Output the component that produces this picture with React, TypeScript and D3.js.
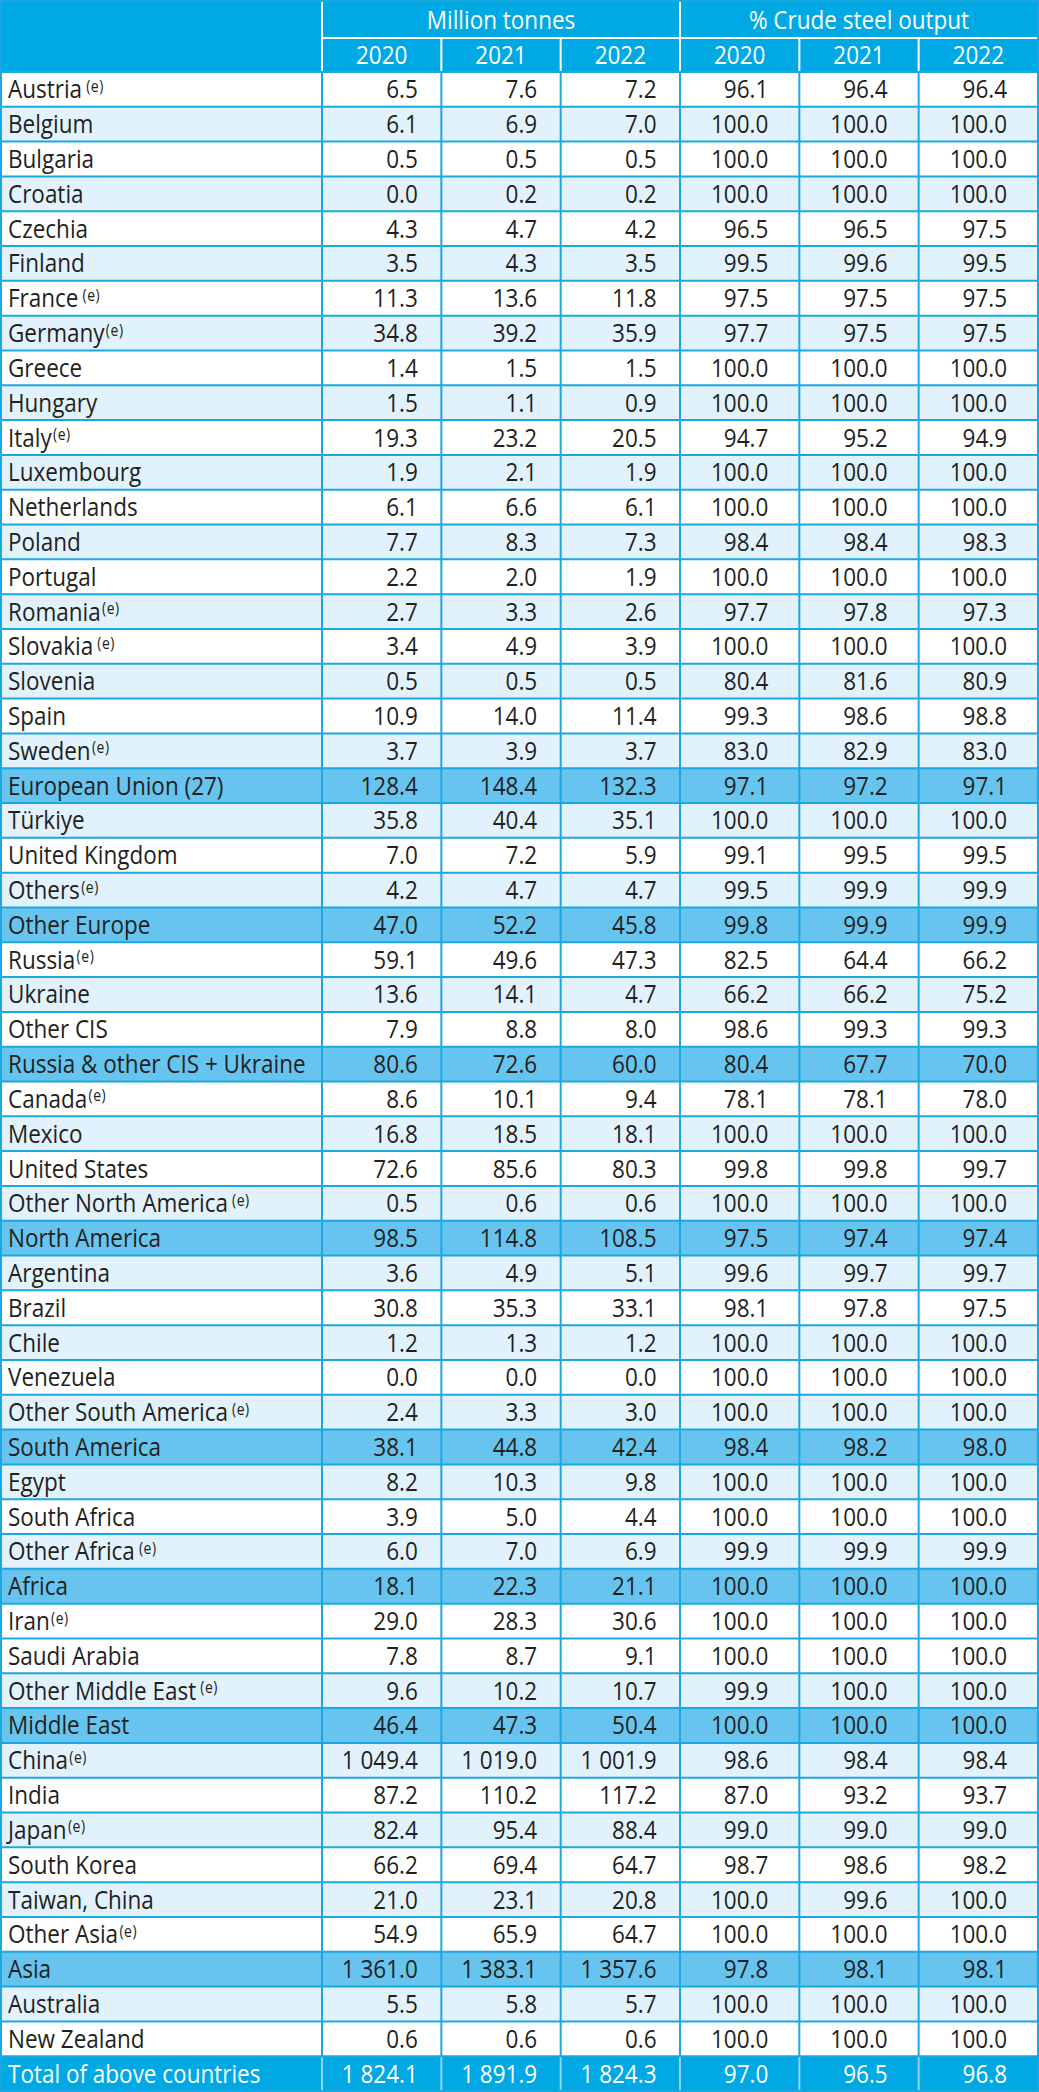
import React from "react";
import * as d3 from "d3";

// ---------- DATA ----------
const names = [
  "Austria", "Belgium", "Bulgaria", "Croatia", "Czechia", "Finland", "France", "Germany", "Greece", "Hungary",
  "Italy", "Luxembourg", "Netherlands", "Poland", "Portugal", "Romania", "Slovakia", "Slovenia", "Spain", "Sweden",
  "European Union (27)", "Türkiye", "United Kingdom", "Others", "Other Europe",
  "Russia", "Ukraine", "Other CIS", "Russia & other CIS + Ukraine",
  "Canada", "Mexico", "United States", "Other North America", "North America",
  "Argentina", "Brazil", "Chile", "Venezuela", "Other South America", "South America",
  "Egypt", "South Africa", "Other Africa", "Africa",
  "Iran", "Saudi Arabia", "Other Middle East", "Middle East",
  "China", "India", "Japan", "South Korea", "Taiwan, China", "Other Asia", "Asia",
  "Australia", "New Zealand", "Total of above countries",
];

// footnote marks: "" none, "(e)" attached, " (e)" with a gap
const notes = [
  " (e)", "", "", "", "", "", " (e)", "(e)", "", "",
  "(e)", "", "", "", "", "(e)", " (e)", "", "", "(e)",
  "", "", "", "(e)", "",
  "(e)", "", "", "",
  "(e)", "", "", " (e)", "",
  "", "", "", "", " (e)", "",
  "", "", " (e)", "",
  "(e)", "", " (e)", "",
  "(e)", "", "(e)", "", "", "(e)", "",
  "", "", "",
];

// row kind: c = country, s = regional subtotal, t = grand total
const kinds = [
  "c", "c", "c", "c", "c", "c", "c", "c", "c", "c",
  "c", "c", "c", "c", "c", "c", "c", "c", "c", "c",
  "s", "c", "c", "c", "s",
  "c", "c", "c", "s",
  "c", "c", "c", "c", "s",
  "c", "c", "c", "c", "c", "s",
  "c", "c", "c", "s",
  "c", "c", "c", "s",
  "c", "c", "c", "c", "c", "c", "s",
  "c", "c", "t",
];

// banded (light) rows among countries
const banded = [
  0, 1, 0, 1, 0, 1, 0, 1, 0, 1,
  0, 1, 0, 1, 0, 1, 0, 1, 0, 1,
  0, 1, 0, 1, 0,
  0, 1, 0, 0,
  0, 1, 0, 1, 0,
  1, 0, 1, 0, 1, 0,
  1, 0, 1, 0,
  0, 0, 1, 0,
  1, 0, 1, 0, 1, 0, 0,
  1, 0, 0,
];

const years = ["2020", "2021", "2022"];
const groupHeaders = ["Million tonnes", "% Crude steel output"];

const mt2020 = [
  6.5, 6.1, 0.5, 0.0, 4.3, 3.5, 11.3, 34.8, 1.4, 1.5,
  19.3, 1.9, 6.1, 7.7, 2.2, 2.7, 3.4, 0.5, 10.9, 3.7,
  128.4, 35.8, 7.0, 4.2, 47.0,
  59.1, 13.6, 7.9, 80.6,
  8.6, 16.8, 72.6, 0.5, 98.5,
  3.6, 30.8, 1.2, 0.0, 2.4, 38.1,
  8.2, 3.9, 6.0, 18.1,
  29.0, 7.8, 9.6, 46.4,
  1049.4, 87.2, 82.4, 66.2, 21.0, 54.9, 1361.0,
  5.5, 0.6, 1824.1,
];
const mt2021 = [
  7.6, 6.9, 0.5, 0.2, 4.7, 4.3, 13.6, 39.2, 1.5, 1.1,
  23.2, 2.1, 6.6, 8.3, 2.0, 3.3, 4.9, 0.5, 14.0, 3.9,
  148.4, 40.4, 7.2, 4.7, 52.2,
  49.6, 14.1, 8.8, 72.6,
  10.1, 18.5, 85.6, 0.6, 114.8,
  4.9, 35.3, 1.3, 0.0, 3.3, 44.8,
  10.3, 5.0, 7.0, 22.3,
  28.3, 8.7, 10.2, 47.3,
  1019.0, 110.2, 95.4, 69.4, 23.1, 65.9, 1383.1,
  5.8, 0.6, 1891.9,
];
const mt2022 = [
  7.2, 7.0, 0.5, 0.2, 4.2, 3.5, 11.8, 35.9, 1.5, 0.9,
  20.5, 1.9, 6.1, 7.3, 1.9, 2.6, 3.9, 0.5, 11.4, 3.7,
  132.3, 35.1, 5.9, 4.7, 45.8,
  47.3, 4.7, 8.0, 60.0,
  9.4, 18.1, 80.3, 0.6, 108.5,
  5.1, 33.1, 1.2, 0.0, 3.0, 42.4,
  9.8, 4.4, 6.9, 21.1,
  30.6, 9.1, 10.7, 50.4,
  1001.9, 117.2, 88.4, 64.7, 20.8, 64.7, 1357.6,
  5.7, 0.6, 1824.3,
];
const pct2020 = [
  96.1, 100.0, 100.0, 100.0, 96.5, 99.5, 97.5, 97.7, 100.0, 100.0,
  94.7, 100.0, 100.0, 98.4, 100.0, 97.7, 100.0, 80.4, 99.3, 83.0,
  97.1, 100.0, 99.1, 99.5, 99.8,
  82.5, 66.2, 98.6, 80.4,
  78.1, 100.0, 99.8, 100.0, 97.5,
  99.6, 98.1, 100.0, 100.0, 100.0, 98.4,
  100.0, 100.0, 99.9, 100.0,
  100.0, 100.0, 99.9, 100.0,
  98.6, 87.0, 99.0, 98.7, 100.0, 100.0, 97.8,
  100.0, 100.0, 97.0,
];
const pct2021 = [
  96.4, 100.0, 100.0, 100.0, 96.5, 99.6, 97.5, 97.5, 100.0, 100.0,
  95.2, 100.0, 100.0, 98.4, 100.0, 97.8, 100.0, 81.6, 98.6, 82.9,
  97.2, 100.0, 99.5, 99.9, 99.9,
  64.4, 66.2, 99.3, 67.7,
  78.1, 100.0, 99.8, 100.0, 97.4,
  99.7, 97.8, 100.0, 100.0, 100.0, 98.2,
  100.0, 100.0, 99.9, 100.0,
  100.0, 100.0, 100.0, 100.0,
  98.4, 93.2, 99.0, 98.6, 99.6, 100.0, 98.1,
  100.0, 100.0, 96.5,
];
const pct2022 = [
  96.4, 100.0, 100.0, 100.0, 97.5, 99.5, 97.5, 97.5, 100.0, 100.0,
  94.9, 100.0, 100.0, 98.3, 100.0, 97.3, 100.0, 80.9, 98.8, 83.0,
  97.1, 100.0, 99.5, 99.9, 99.9,
  66.2, 75.2, 99.3, 70.0,
  78.0, 100.0, 99.7, 100.0, 97.4,
  99.7, 97.5, 100.0, 100.0, 100.0, 98.0,
  100.0, 100.0, 99.9, 100.0,
  100.0, 100.0, 100.0, 100.0,
  98.4, 93.7, 99.0, 98.2, 100.0, 100.0, 98.1,
  100.0, 100.0, 96.8,
];

const columns = [mt2020, mt2021, mt2022, pct2020, pct2021, pct2022];

// ---------- STYLE ----------
const W = 1039;
const H = 2092;
const HEAD = "#00a9e4";
const SUB = "#66c4ef";
const LIGHT = "#e2f2fc";
const LINE = "#1ba8e1";
const TEXT = "#231f20";
const FONT = "'Open Sans', 'Noto Sans', sans-serif";
const FS = 25;
const SX = 0.9; // horizontal condensing of the typeface

const locale = d3.formatLocale({ decimal: ".", thousands: " ", grouping: [3], currency: ["", ""] });
const fmt = locale.format(",.1f");

const tf = (x: number, y: number) => `translate(${x},${y}) scale(${SX},1)`;

export default function App() {
  const left = 1;
  const right = 1038;
  const nameRight = 322;
  const headMid = 38;
  const headBottom = 72;

  const x = d3.scaleLinear().domain([0, columns.length]).range([nameRight, right]);
  const y = d3
    .scaleBand<number>()
    .domain(d3.range(names.length))
    .range([headBottom, H - 1])
    .paddingInner(0)
    .paddingOuter(0);
  const bh = y.bandwidth();

  const rowFill = (i: number) => {
    const k = kinds[i];
    if (k === "t") return HEAD;
    if (k === "s") return SUB;
    return banded[i] ? LIGHT : "#ffffff";
  };

  return (
    <svg
      width={W}
      height={H}
      style={{ position: "absolute", left: 0, top: 0, display: "block" }}
      fontFamily={FONT}
    >
      <rect x={0} y={0} width={W} height={H} fill="#ffffff" />
      {/* header */}
      <rect x={left} y={left} width={right - left} height={headBottom - left} fill={HEAD} />

      {/* body rows */}
      {names.map((_, i) => (
        <rect key={"bg" + i} x={left} y={y(i)!} width={right - left} height={bh} fill={rowFill(i)} />
      ))}

      {/* horizontal grid lines */}
      {names.map((_, i) => (
        <line
          key={"h" + i}
          x1={left}
          x2={right}
          y1={y(i)!}
          y2={y(i)!}
          stroke={LINE}
          strokeWidth={2}
        />
      ))}

      {/* vertical grid lines body */}
      {d3.range(columns.length + 1).map((c) => (
        <line
          key={"v" + c}
          x1={x(c)}
          x2={x(c)}
          y1={headBottom}
          y2={y(names.length - 1)!}
          stroke={LINE}
          strokeWidth={2}
        />
      ))}
      {d3.range(columns.length).map((c) => (
        <line
          key={"vt" + c}
          x1={x(c)}
          x2={x(c)}
          y1={y(names.length - 1)! + 1}
          y2={H}
          stroke="#8ed5f3"
          strokeWidth={2}
        />
      ))}

      {/* header white lines */}
      <line x1={nameRight} x2={nameRight} y1={2} y2={headBottom - 1} stroke="#fff" strokeWidth={2} />
      <line x1={x(3)} x2={x(3)} y1={2} y2={headBottom - 1} stroke="#fff" strokeWidth={2} />
      <line x1={nameRight} x2={right - 1} y1={headMid} y2={headMid} stroke="#fff" strokeWidth={2} />
      {[1, 2, 4, 5].map((c) => (
        <line key={"hv" + c} x1={x(c)} x2={x(c)} y1={headMid} y2={headBottom - 1} stroke="#fff" strokeWidth={2} />
      ))}

      {/* header text */}
      {groupHeaders.map((g, gi) => (
        <text
          key={"g" + gi}
          transform={tf((x(gi * 3) + x(gi * 3 + 3)) / 2, (left + headMid) / 2 + FS * 0.36)}
          textAnchor="middle"
          fontSize={FS}
          fill="#fff"
        >
          {g}
        </text>
      ))}
      {d3.range(columns.length).map((c) => (
        <text
          key={"yr" + c}
          transform={tf((x(c) + x(c + 1)) / 2, (headMid + headBottom) / 2 + FS * 0.36)}
          textAnchor="middle"
          fontSize={FS}
          fill="#fff"
        >
          {years[c % 3]}
        </text>
      ))}

      {/* body text */}
      {names.map((n, i) => {
        const cy = y(i)! + bh / 2 + FS * 0.36;
        const color = kinds[i] === "t" ? "#ffffff" : TEXT;
        const note = notes[i];
        return (
          <g key={"r" + i} fill={color} fontSize={FS}>
            <text transform={tf(8, cy)}>
              {n}
              {note ? (
                <tspan fontSize={15.5} letterSpacing={0.6} dx={note.startsWith(" ") ? 4.5 : 1.5} dy={-6.5}>
                  {note.trim()}
                </tspan>
              ) : null}
            </text>
            {columns.map((col, c) => (
              <text key={c} transform={tf(x(c + 1) - (c < 3 ? 23.5 : 31), cy)} textAnchor="end">
                {fmt(col[i])}
              </text>
            ))}
          </g>
        );
      })}

      {/* outer border */}
      <rect x={left} y={left} width={right - left} height={H - 2} fill="none" stroke={LINE} strokeWidth={2} />
    </svg>
  );
}
